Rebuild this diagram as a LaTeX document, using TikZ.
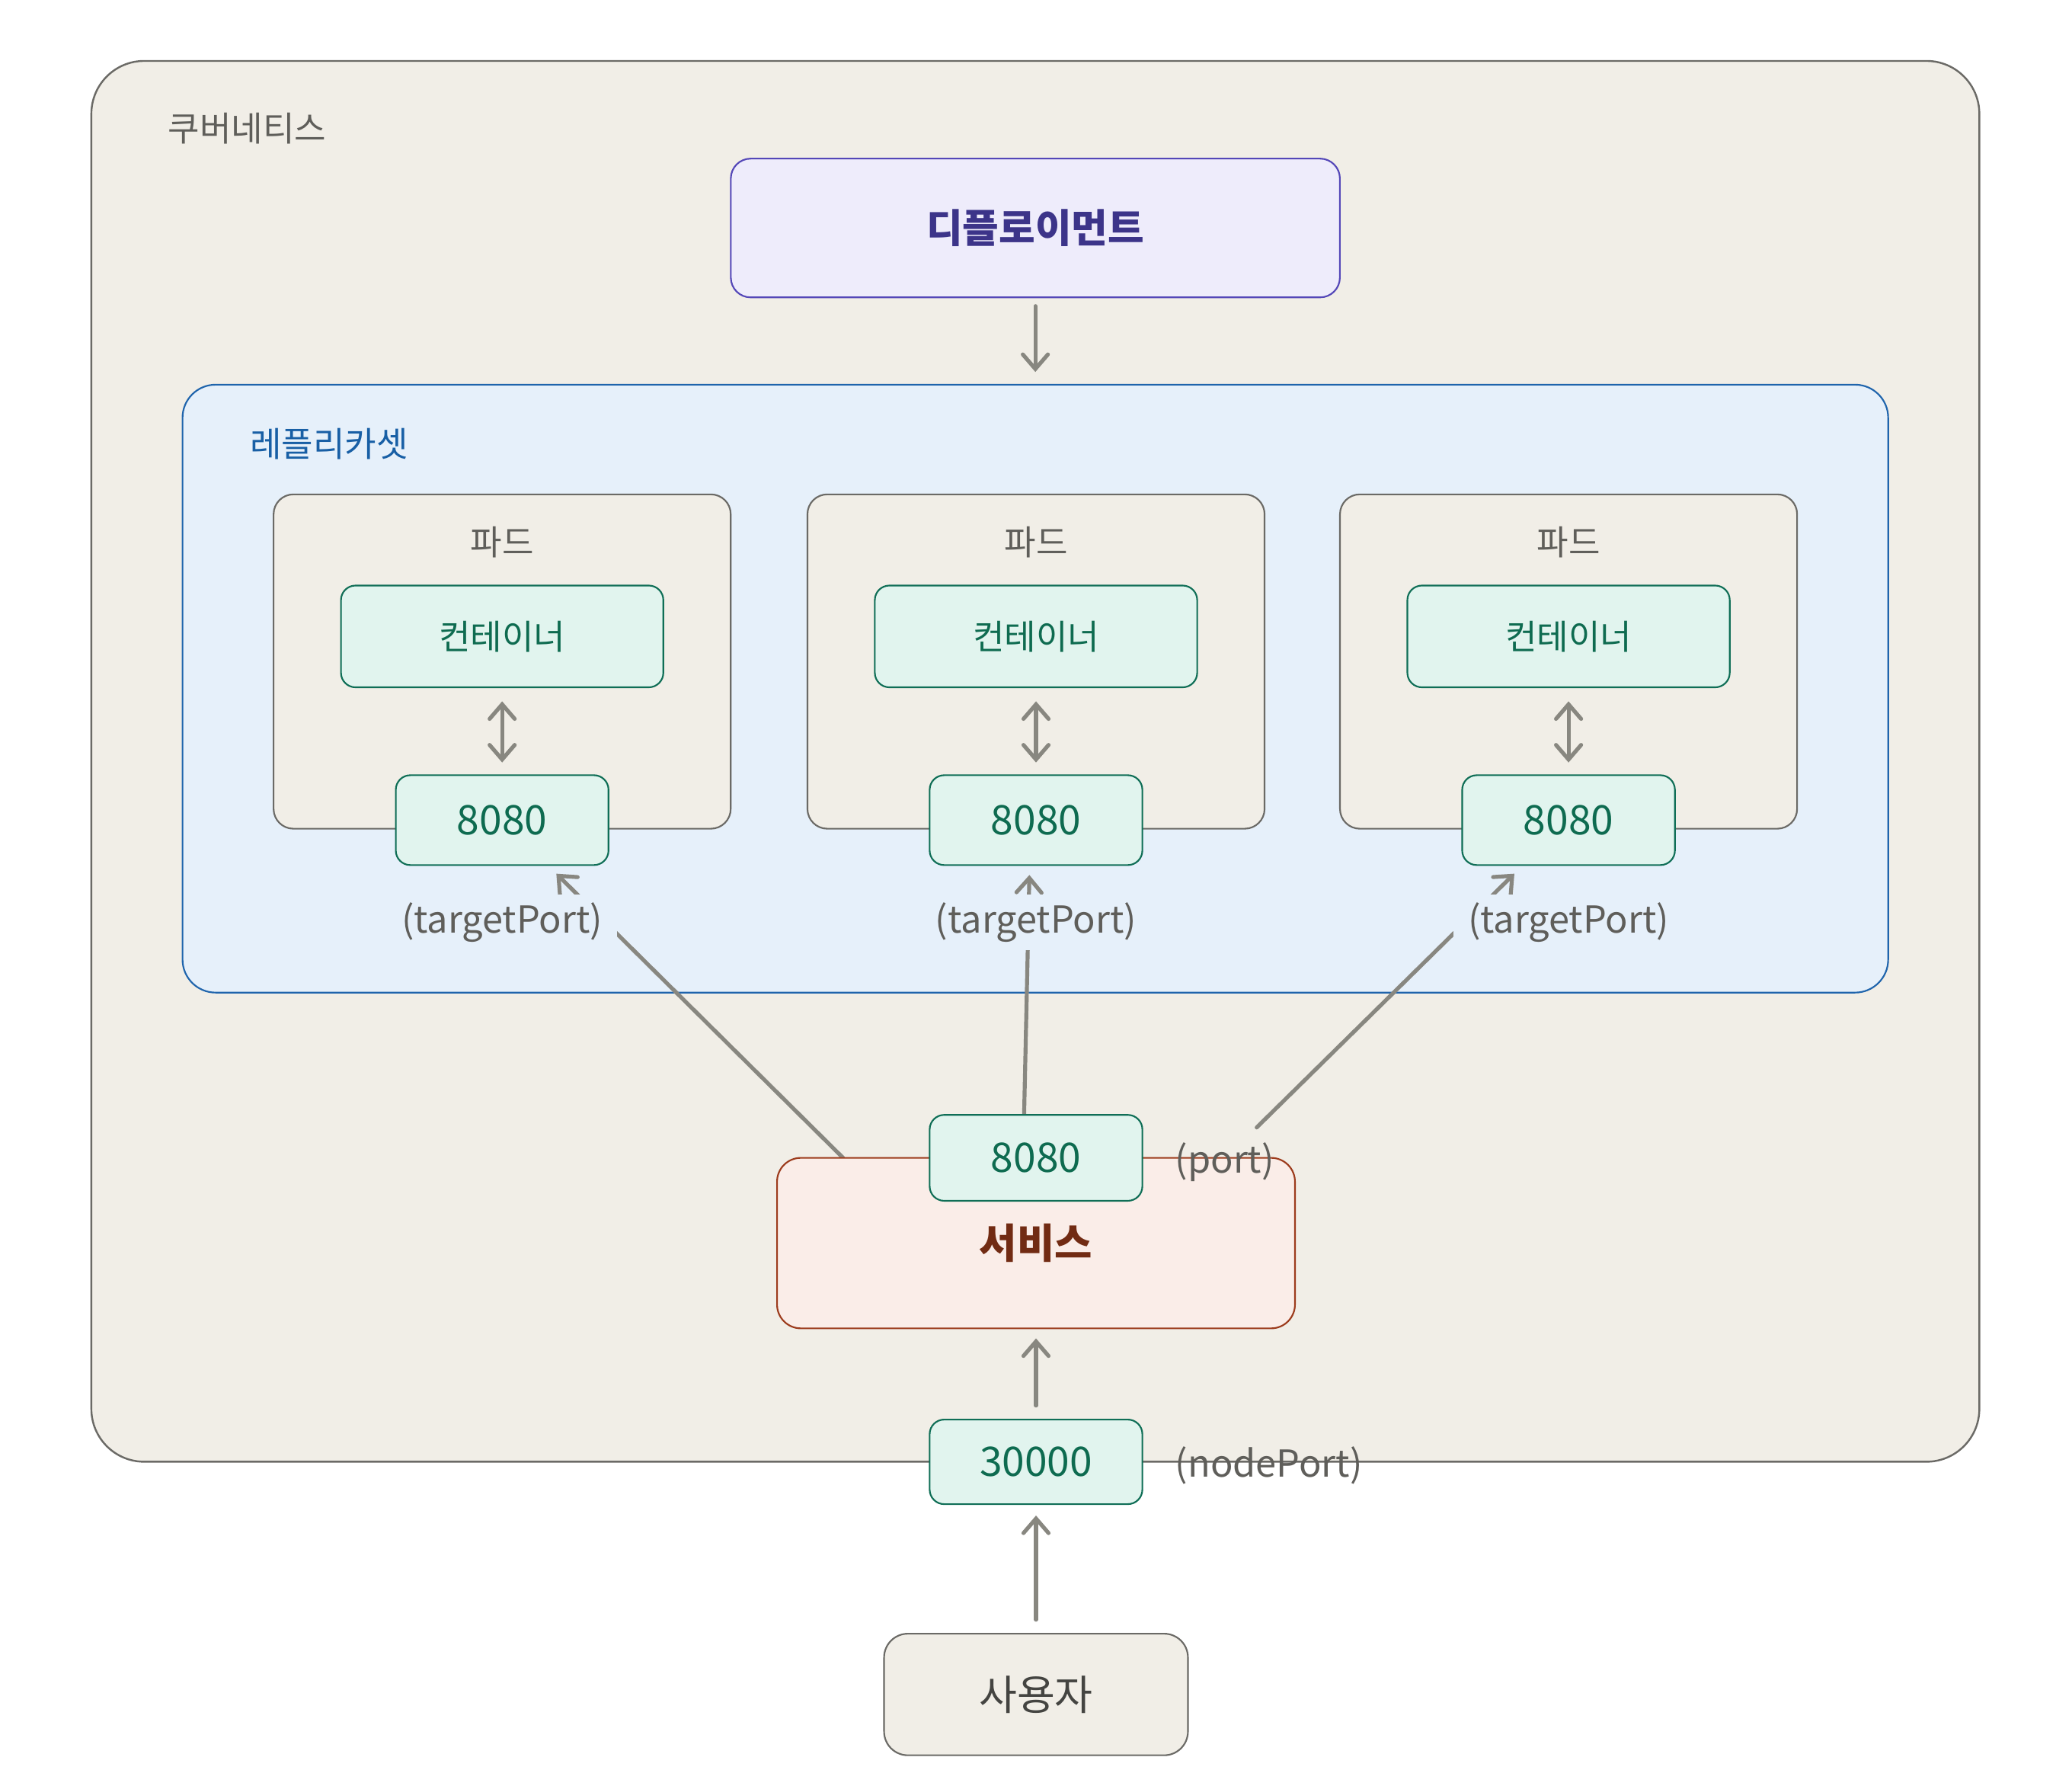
\documentclass[tikz,border=0pt]{standalone}
\usepackage{fontspec}
\setmainfont{Noto Sans CJK KR}
\usetikzlibrary{arrows.meta}

\definecolor{beige}{HTML}{F1EEE7}
\definecolor{greyline}{HTML}{6B6A66}
\definecolor{greytext}{HTML}{5F5E5A}
\definecolor{darktext}{HTML}{444441}
\definecolor{deployfill}{HTML}{EEECFB}
\definecolor{deployline}{HTML}{5447B8}
\definecolor{deploytext}{HTML}{3C3489}
\definecolor{rsfill}{HTML}{E6F0FA}
\definecolor{rsline}{HTML}{1F64AC}
\definecolor{rstext}{HTML}{185FA5}
\definecolor{mintfill}{HTML}{E1F4EE}
\definecolor{mintline}{HTML}{0F6E56}
\definecolor{minttext}{HTML}{0E6B50}
\definecolor{svcfill}{HTML}{FAEDE8}
\definecolor{svcline}{HTML}{9C3B1C}
\definecolor{svctext}{HTML}{712B13}
\definecolor{flowgrey}{HTML}{888780}

\tikzset{
  hangul/.style={font=\fontsize{14.8}{17}\selectfont},
  digits/.style={font=\fontsize{17.5}{20}\selectfont},
  latin/.style={font=\fontsize{16}{19}\selectfont},
  clusterbox/.style={draw=greyline, fill=beige, line width=0.8pt, rounded corners=0.8cm},
  deploybox/.style={draw=deployline, fill=deployfill, line width=0.7pt, rounded corners=0.3cm,
    text=deploytext, font=\fontsize{17}{19}\selectfont\bfseries},
  rsbox/.style={draw=rsline, fill=rsfill, line width=0.7pt, rounded corners=0.5cm},
  podbox/.style={draw=greyline, fill=beige, line width=0.7pt, rounded corners=0.3cm,
    minimum width=6.92cm, minimum height=5.06cm},
  ctrbox/.style={draw=mintline, fill=mintfill, line width=0.7pt, rounded corners=0.22cm,
    text=minttext, hangul, minimum width=4.88cm, minimum height=1.54cm},
  portbox/.style={draw=mintline, fill=mintfill, line width=0.7pt, rounded corners=0.22cm,
    text=minttext, digits, minimum width=3.22cm, minimum height=1.36cm},
  svcbox/.style={draw=svcline, fill=svcfill, line width=0.7pt, rounded corners=0.36cm,
    text=svctext, font=\fontsize{17.6}{19}\selectfont\bfseries,
    minimum width=7.84cm, minimum height=2.58cm},
  userbox/.style={draw=greyline, fill=beige, line width=0.7pt, rounded corners=0.36cm,
    text=darktext, font=\fontsize{17.8}{19}\selectfont,
    minimum width=4.6cm, minimum height=1.84cm},
  note/.style={text=greytext, latin, inner sep=0pt},
  tplabel/.style={text=greytext, latin, fill=rsfill, inner xsep=0.22cm, inner ysep=0pt,
    minimum height=0.84cm},
  flow/.style={draw=flowgrey, line width=1.7pt, line cap=round},
  tip/.tip={Straight Barb[length=0.22cm, width=0.38cm, line cap=round, line width=1.7pt]}
}

\begin{document}
\begin{tikzpicture}[x=0.02cm, y=-0.02cm]
\useasboundingbox (0,0) rectangle (1568,1351);

% kubernetes cluster
\node[clusterbox, minimum width=28.58cm, minimum height=21.2cm] (k8s) at (783.5,576) {};
\node[hangul, text=greytext, anchor=west, inner sep=0pt] (k8slabel) at (127,97) {쿠버네티스};

\node[deploybox, minimum width=9.22cm, minimum height=2.1cm] (deploy) at (783.5,172.5) {디플로이먼트};

% replicaset
\node[rsbox, minimum width=25.82cm, minimum height=9.2cm] (rs) at (783.5,521) {};
\node[hangul, text=rstext, anchor=west, inner sep=0pt] (rslabel) at (189,336) {레플리카셋};
\draw[flow, -tip, shorten <=0.12cm, shorten >=0.18cm] (deploy) -- (rs);

\foreach \i/\x in {1/380,2/784,3/1187}{
  \node[podbox] (pod\i) at (\x,500.5) {};
  \node[hangul, text=greytext, inner sep=0pt] (podlabel\i) at (\x,410) {파드};
  \node[ctrbox] (ctr\i) at (\x,481.5) {컨테이너};
  \node[portbox] (port\i) at (\x,620.5) {8080};
  \draw[flow, tip-tip, shorten <=0.2cm, shorten >=0.18cm] (ctr\i) -- (port\i);
}

% service -> pods
\coordinate (s1) at (638,876);
\coordinate (s2) at (775,843);
\coordinate (s3) at (951,853);
\coordinate (t1) at (421,661);
\coordinate (t2) at (779,662);
\coordinate (t3) at (1146,661);
\draw[flow, -tip] (s1) -- (t1);
\draw[flow, -tip] (s2) -- (t2);
\draw[flow, -tip] (s3) -- (t3);
\node[tplabel] (tp1) at (380,698) {(targetPort)};
\node[tplabel] (tp2) at (784,698) {(targetPort)};
\node[tplabel] (tp3) at (1187,698) {(targetPort)};

% service
\node[svcbox] (svc) at (784,940.5) {서비스};
\node[portbox, minimum height=1.3cm] (svcport) at (784,876) {8080};
\node[note, anchor=west] (portlabel) at (889,879) {(port)};

% node port and user
\node[portbox, minimum height=1.28cm] (nodeport) at (784,1106) {30000};
\node[note, anchor=west] (nplabel) at (889,1109) {(nodePort)};
\node[userbox] (user) at (784,1282) {사용자};
\draw[flow, -tip, shorten <=0.2cm, shorten >=0.14cm] (nodeport) -- (svc);
\draw[flow, -tip, shorten <=0.2cm, shorten >=0.16cm] (user) -- (nodeport);
\end{tikzpicture}
\end{document}
